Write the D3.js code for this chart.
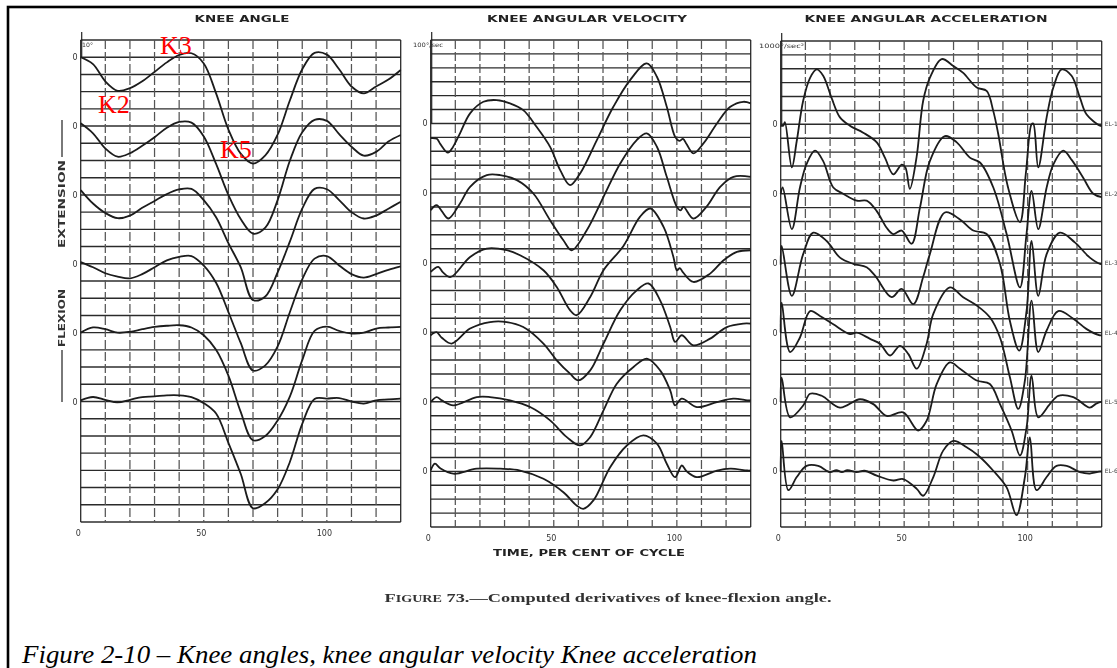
<!DOCTYPE html>
<html>
<head>
<meta charset="utf-8">
<script src="https://cdn.jsdelivr.net/npm/d3@7"></script>
<style>
  body { margin: 0; background: #fff; }
  svg { display: block; }
</style>
</head>
<body>
<svg id="fig" width="1117" height="668"></svg>
<script>
// ---- Knee angle (degrees, extension positive), sampled every 5 % of the cycle ----
const anglePct = [0,5,10,15,20,25,30,35,40,45,50,55,60,65,70,75,80,85,90,95,100,105,110,115,120,125,130];
const angle1 = [0,-4,-14,-19.5,-18,-14,-8.5,-3,1.3,2.3,-3.6,-21,-42,-56,-61.8,-57,-45,-25,-7,2.5,1.5,-7,-17,-21,-17,-13,-7.4];
const angle2 = [1.6,-4.2,-13,-17.8,-15.8,-11.5,-6.5,-1,2.4,2,-6,-22,-40,-54,-62.5,-59,-43,-20,-3.6,3.6,3,-4.7,-12,-17.2,-15,-9,-5.2];
const angle3 = [2.8,-5,-10.5,-13.5,-12,-7.5,-3.5,0.5,3.2,3.5,-3,-13,-28,-42,-61,-59,-45,-27,-8,3.5,3.3,-3,-10,-13.7,-12,-8,-4];
const angle4 = [1,-2,-5.5,-7.5,-8.5,-6,-2,2,4,4.5,-1,-11,-28,-46,-62,-59,-48,-28,-9,3,4.5,-1,-6,-8,-6,-3.5,-1.5];
const angle5 = [0,3,2,0,0.5,2,3.3,4,4.3,3,-1.5,-10,-25,-46,-62.5,-60,-51,-37,-16,1,3.5,1,-0.5,0,2.4,3,3.3];
const angle6 = [0.7,2.6,1,-0.5,1,2.6,3,3.6,3.6,2.5,-1,-7,-24,-42,-62,-59,-51,-35,-13,1.5,1.7,2,0,-1.2,0.7,1.2,1.7];

// ---- Knee angular velocity (deg/sec), [per cent of cycle, value] ----
const vel1 = [[0,-105],[2.5,-110],[4,-150],[7,-210],[9,-170],[11.9,-71],[16,73],[21.4,156],[26.8,168],[32.2,145],[37.6,96],[43,-24],[48.5,-168],[52.6,-335],[56.6,-443],[60.7,-359],[67.5,-119],[74.2,120],[81,312],[87.8,432],[91.9,336],[95.9,120],[99.3,-96],[101,-125],[102.5,-110],[104,-150],[106.7,-215],[110.8,-143],[116.3,0],[121.7,120],[127,156],[130,145]];
const vel2 = [[0,-123],[2.4,-87],[4.5,-130],[7.2,-183],[11.9,-75],[16,45],[22.8,129],[28.2,129],[35,93],[41.7,-3],[48.5,-195],[53.9,-339],[57.3,-411],[63.4,-267],[70.2,-27],[77,213],[83.7,381],[87.8,429],[91.9,333],[95.9,117],[100,-99],[101.5,-125],[102.7,-99],[106.7,-183],[112,-99],[117.6,45],[123,117],[130,117]];
const vel3 = [[0,-67],[3.1,-31],[5,-70],[8.1,-103],[16,41],[22.8,101],[30.9,89],[36.3,53],[45.8,-55],[51.2,-175],[56.6,-342],[59.3,-378],[64.8,-247],[70.2,-55],[78.3,120],[85,329],[89.2,389],[94.6,257],[98.6,41],[100,-55],[101.2,-40],[102.5,-70],[106.7,-139],[113.5,-79],[119,17],[124.4,77],[130,89]];
const vel4 = [[0,-22],[2.4,0],[4.5,-40],[8.5,-82],[16,26],[24.1,73],[30.9,73],[37.6,37],[45.8,-82],[51.2,-202],[56.6,-298],[60,-346],[64.8,-274],[70.2,-82],[77,158],[83.7,301],[88.5,350],[93.2,229],[97.3,37],[99.3,-70],[102,-22],[106.7,-94],[113.5,-46],[120.3,37],[127,62],[130,62]];
const vel5 = [[0,-2],[2.4,34],[4.5,10],[9.2,-26],[18.7,34],[24.1,34],[32.2,10],[40.4,-38],[48.5,-134],[55.3,-254],[60.7,-314],[64.8,-254],[70.2,-62],[75.6,130],[82.4,250],[87.8,310],[93.2,226],[97.3,82],[99.3,-26],[102,22],[108.1,-38],[116.3,-2],[123,22],[128.6,10],[130,10]];
const vel6 = [[0,6],[1.7,55],[4,20],[9.2,-17],[18.7,19],[28.2,19],[36.3,6],[45.8,-53],[53.9,-150],[59.3,-245],[62,-269],[66.1,-209],[72.9,30],[79.7,186],[86.4,258],[91.9,199],[95.9,55],[99.3,-42],[102,42],[104,0],[108.1,-42],[116.3,6],[121.7,19],[128.6,6],[130,6]];

// ---- Knee angular acceleration (deg/sec^2), [per cent of cycle, value] ----
const acc1 = [[0,-100],[1,-100],[1.7,150],[4.5,-3100],[6.5,-1200],[9.1,1700],[11.9,3350],[14.6,3950],[17.2,3500],[20.6,1900],[24,500],[28,-100],[33.4,-600],[38.9,-1300],[42.2,-2400],[45.6,-3600],[49,-2900],[50.5,-3100],[52.3,-4650],[55,-2400],[57.7,1700],[60.4,3350],[65.2,4700],[69.9,4200],[73.9,3700],[79.4,2650],[83.4,2400],[86.1,950],[88.1,-700],[92,-4500],[96.9,-7050],[99.3,-3500],[101.6,0],[102.3,50],[104.3,-3100],[107.7,500],[110.4,2650],[113.8,3950],[117.8,3500],[121.2,1900],[123.9,700],[129.3,-100],[130,-100]];
const acc2 = [[0,0],[0.8,450],[4.5,-2550],[7.8,450],[10.5,2150],[13.9,3100],[17.2,2350],[21.3,450],[25.3,0],[30.8,-500],[34.8,-500],[38.9,-1250],[42.9,-2450],[45.6,-2900],[49,-2650],[53,-3600],[56.4,-1000],[60.4,2350],[66.5,4150],[71.3,3700],[76.6,2600],[80.7,2250],[86.1,450],[91.5,-2900],[96.9,-6750],[99.5,-3000],[101.6,200],[104.3,-2550],[107.7,450],[110.4,2100],[114.4,3100],[118,2400],[122.5,1150],[126.6,0],[130,-250]];
const acc3 = [[0,-100],[0.4,1250],[4.5,-2350],[9.1,650],[13.2,2200],[18.6,1600],[24,400],[29.4,-50],[34.8,-300],[38.2,-900],[44.9,-2450],[49,-1850],[53.7,-2950],[57.7,-1000],[60.4,650],[66.5,3650],[72.6,3150],[78,2350],[83.4,2100],[88.8,-50],[92.8,-4150],[96.6,-6300],[99.6,-3400],[101.6,1600],[104.3,-2350],[107.7,650],[113.1,2200],[119.1,1500],[125.2,400],[129.3,-50],[130,-50]];
const acc4 = [[0,0],[0.4,2150],[3.8,-1400],[7.8,-350],[11.9,1550],[15.9,1200],[21.3,600],[28.1,-100],[30.8,0],[36.2,-450],[40.2,-800],[44.3,-1650],[48.3,-950],[51.7,-1550],[55.1,-2600],[59.1,-800],[61.8,1350],[68.5,3250],[73.9,2550],[79.4,1950],[84.7,1100],[88.8,-350],[92.8,-3200],[96.2,-5500],[98.9,-3450],[101.6,2300],[104.3,-1400],[107.7,150],[112.4,1550],[118.5,1000],[123.9,250],[129.3,-200],[130,-200]];
const acc5 = [[0,0],[0.4,1750],[3.8,-1100],[9.1,-250],[11.9,600],[16.6,450],[24,-400],[32.1,200],[37.5,-150],[42.9,-1000],[49.6,-750],[55.7,-2050],[59.1,-1350],[63.2,1300],[68.5,2850],[72.6,2400],[79.4,1550],[84.7,1300],[88.8,-150],[93.5,-2050],[96.9,-3850],[99.6,-1800],[101.6,1900],[104.3,-1100],[109,-150],[112.4,450],[118.5,350],[125.2,-400],[127.5,-150],[129.3,0],[130,0]];
const acc6 = [[0,0],[0.4,2200],[3.1,-1350],[6.5,-400],[10.5,400],[15.2,400],[20,-50],[22.5,100],[24.8,-50],[27,100],[30.8,-50],[34,50],[38.9,-300],[45.6,-650],[49.6,-550],[55.1,-1250],[57.7,-1750],[61.8,-400],[65.8,1500],[69.9,2200],[75.3,1750],[80,1150],[86.1,50],[91.5,-1150],[95.5,-3150],[98.9,-400],[100.9,2450],[103.6,-1350],[107.7,-400],[111.7,400],[115.8,400],[121.2,-50],[125.2,-150],[128,-50],[130,0]];

const timeTicks = [0, 50, 100];
const trialTags = ['EL-1', 'EL-2', 'EL-3', 'EL-4', 'EL-5', 'EL-6'];

const angleSeries = [angle1, angle2, angle3, angle4, angle5, angle6]
  .map(vals => vals.map((v, i) => [anglePct[i], v]));

const panels = [
  { title: 'KNEE ANGLE', titleX: 242, titleLen: 95,
    x0: 80.7, x1: 400.7, y0: 40, y1: 522, rows: 28,
    unit: 10, firstZero: 1, step: 4, series: angleSeries,
    unitLabel: '10°', unitX: 82, unitLen: 11, zeroX: 75 },
  { title: 'KNEE ANGULAR VELOCITY', titleX: 587, titleLen: 200,
    x0: 430.7, x1: 750.7, y0: 40, y1: 527, rows: 35,
    unit: 100, firstZero: 6, step: 5, series: [vel1, vel2, vel3, vel4, vel5, vel6],
    unitLabel: '100°/sec', unitX: 413, unitLen: 30, zeroX: 425 },
  { title: 'KNEE ANGULAR ACCELERATION', titleX: 926, titleLen: 243,
    x0: 780.7, x1: 1101.7, y0: 41, y1: 527, rows: 35,
    unit: 1000, firstZero: 6, step: 5, series: [acc1, acc2, acc3, acc4, acc5, acc6],
    unitLabel: '1000°/sec²', unitX: 759, unitLen: 45, zeroX: 775, tags: true }
];

const svg = d3.select('#fig');
const ink = '#1b1b1b';

// slight softening for the printed (scanned) figure
svg.append('defs').append('filter').attr('id', 'soft')
  .attr('x', '-2%').attr('y', '-2%').attr('width', '104%').attr('height', '104%')
  .append('feGaussianBlur').attr('stdDeviation', 0.4);

// outer frame of the page
svg.append('rect')
  .attr('x', 8).attr('y', 7).attr('width', 1140).attr('height', 700)
  .attr('fill', 'none').attr('stroke', '#000').attr('stroke-width', 2.6);

const print = svg.append('g').attr('filter', 'url(#soft)');

panels.forEach(p => {
  const g = print.append('g');
  const x = d3.scaleLinear().domain([0, 130]).range([p.x0, p.x1]);
  const top = p.unit * p.firstZero;
  const y = d3.scaleLinear().domain([top, top - p.unit * p.rows]).range([p.y0, p.y1]);

  // horizontal rulings
  const rowVals = d3.range(p.rows + 1).map(i => top - i * p.unit);
  g.selectAll('line.h').data(rowVals).join('line')
    .attr('x1', p.x0).attr('x2', p.x1)
    .attr('y1', d => y(d)).attr('y2', d => y(d))
    .attr('stroke', '#2c2c2c').attr('stroke-width', 1.4);

  // vertical rulings every 10 % of the cycle
  const colVals = d3.range(0, 131, 10);
  g.selectAll('line.v').data(colVals).join('line')
    .attr('x1', d => x(d)).attr('x2', d => x(d))
    .attr('y1', p.y0).attr('y2', p.y1)
    .attr('stroke', (d, i) => (i === 0 || i === colVals.length - 1) ? '#222' : '#555')
    .attr('stroke-width', 1.25)
    .attr('stroke-dasharray', (d, i) => (i === 0 || i === colVals.length - 1) ? null : '9,3');

  // title
  g.append('text')
    .attr('x', p.titleX).attr('y', 22)
    .attr('text-anchor', 'middle')
    .attr('textLength', p.titleLen).attr('lengthAdjust', 'spacingAndGlyphs')
    .style('font-family', 'DejaVu Sans').style('font-weight', 'bold')
    .style('font-size', '9px').attr('fill', '#222')
    .text(p.title);

  // unit marker above the first trace
  g.append('line')
    .attr('x1', x(0) + 1).attr('x2', x(0) + 1)
    .attr('y1', p.y0 - 8).attr('y2', y(0))
    .attr('stroke', '#222').attr('stroke-width', 1.2);
  g.append('text')
    .attr('x', p.unitX).attr('y', p.y0 + 7)
    .attr('textLength', p.unitLen).attr('lengthAdjust', 'spacingAndGlyphs')
    .style('font-family', 'DejaVu Sans').style('font-size', '6px').attr('fill', '#333')
    .text(p.unitLabel);

  // x axis labels
  const axis = d3.axisBottom(x).tickValues(timeTicks).tickSize(0).tickPadding(0);
  const ax = g.append('g').attr('transform', `translate(-3,${p.y1 + 8})`).call(axis);
  ax.select('.domain').remove();
  ax.selectAll('text')
    .style('font-family', 'DejaVu Sans').style('font-size', '8px').attr('fill', '#333');

  const line = d3.line().curve(d3.curveCatmullRom.alpha(0.5));

  p.series.forEach((s, k) => {
    const off = p.unit * p.step * k;
    // zero mark for this trace
    g.append('text')
      .attr('x', p.zeroX).attr('y', y(-off) + 3)
      .attr('text-anchor', 'middle')
      .style('font-family', 'DejaVu Sans').style('font-size', '8px').attr('fill', '#333')
      .text('0');
    g.append('path')
      .attr('d', line.x(d => x(d[0])).y(d => y(d[1] - off))(s))
      .attr('fill', 'none').attr('stroke', ink).attr('stroke-width', 1.8)
      .attr('stroke-linejoin', 'round');
    if (p.tags) {
      g.append('text')
        .attr('x', p.x1 + 3).attr('y', y(-off) + 2)
        .style('font-family', 'DejaVu Sans').style('font-size', '6px').attr('fill', '#444')
        .text(trialTags[k]);
    }
  });
});

// common time axis title
print.append('text')
  .attr('x', 589).attr('y', 556).attr('text-anchor', 'middle')
  .attr('textLength', 192).attr('lengthAdjust', 'spacingAndGlyphs')
  .style('font-family', 'DejaVu Sans').style('font-weight', 'bold').style('font-size', '9px')
  .attr('fill', '#222')
  .text('TIME, PER CENT OF CYCLE');

// direction labels beside the knee angle traces
function sideLabel(text, cy, len) {
  print.append('text')
    .attr('transform', `translate(65,${cy}) rotate(-90)`)
    .attr('text-anchor', 'middle')
    .attr('textLength', len).attr('lengthAdjust', 'spacingAndGlyphs')
    .style('font-family', 'DejaVu Sans').style('font-weight', 'bold').style('font-size', '8px')
    .attr('fill', '#333')
    .text(text);
}
sideLabel('EXTENSION', 204, 88);
sideLabel('FLEXION', 318, 58);
print.append('line').attr('x1', 62).attr('x2', 62).attr('y1', 120).attr('y2', 157)
  .attr('stroke', '#333').attr('stroke-width', 1.3);
print.append('line').attr('x1', 62).attr('x2', 62).attr('y1', 350).attr('y2', 402)
  .attr('stroke', '#333').attr('stroke-width', 1.3);

// printed figure caption, "Figure" set in small capitals
const cap = print.append('text')
  .attr('x', 608).attr('y', 602).attr('text-anchor', 'middle')
  .attr('textLength', 447).attr('lengthAdjust', 'spacingAndGlyphs')
  .style('font-family', 'Liberation Serif').style('font-weight', 'bold')
  .attr('fill', '#333');
cap.append('tspan').style('font-size', '13px').text('F');
cap.append('tspan').style('font-size', '10px').text('IGURE');
cap.append('tspan').style('font-size', '13px').text(' 73.—Computed derivatives of knee-flexion angle.');

// gait event annotations
const events = [
  { label: 'K3', x: 160, y: 54 },
  { label: 'K2', x: 98, y: 113 },
  { label: 'K5', x: 220, y: 158 }
];
svg.selectAll('text.evt').data(events).join('text')
  .attr('x', d => d.x).attr('y', d => d.y)
  .style('font-family', 'Liberation Serif').style('font-size', '26px')
  .attr('fill', '#ff0000')
  .text(d => d.label);

svg.append('text')
  .attr('x', 22).attr('y', 663)
  .attr('textLength', 735).attr('lengthAdjust', 'spacingAndGlyphs')
  .style('font-family', 'Liberation Serif').style('font-style', 'italic').style('font-size', '25px')
  .attr('fill', '#000')
  .text('Figure 2-10 – Knee angles, knee angular velocity Knee acceleration');
</script>
</body>
</html>
